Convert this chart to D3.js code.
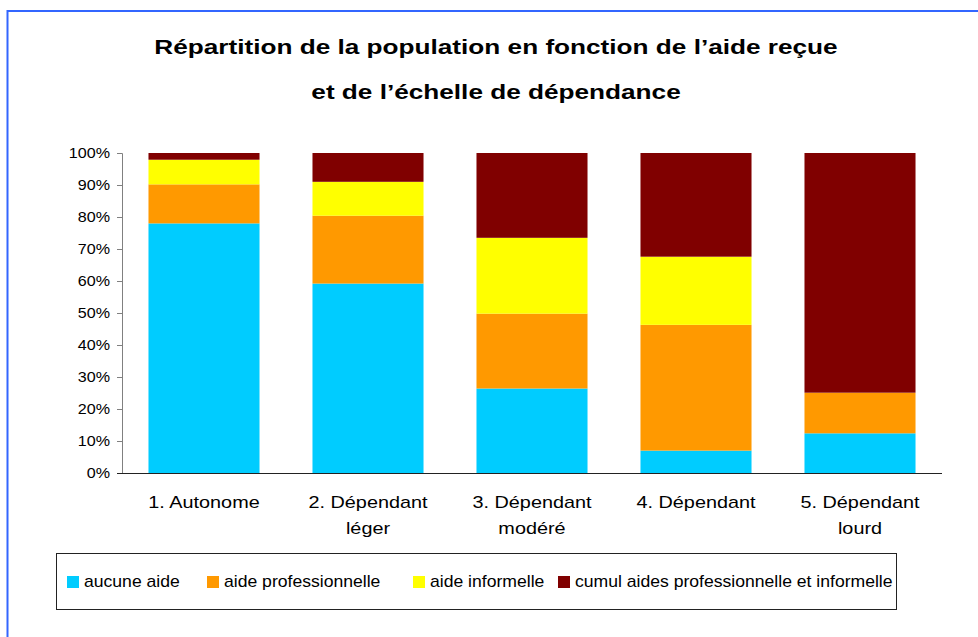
<!DOCTYPE html>
<html>
<head>
<meta charset="utf-8">
<script src="https://cdn.jsdelivr.net/npm/d3@7"></script>
<style>
  body { margin: 0; background: #fff; }
  svg { display: block; font-family: "Liberation Sans", Arial, sans-serif; }
</style>
</head>
<body>
<div id="chart"></div>
<script>
// Data
const categories = [
  ["1. Autonome"],
  ["2. Dépendant", "léger"],
  ["3. Dépendant", "modéré"],
  ["4. Dépendant"],
  ["5. Dépendant", "lourd"]
];
const seriesNames = [
  "aucune aide",
  "aide professionnelle",
  "aide informelle",
  "cumul aides professionnelle et informelle"
];
const aucuneAide = [78, 59.2, 26.4, 7, 12.4];
const aideProfessionnelle = [12.2, 21.2, 23.4, 39.3, 12.7];
const aideInformelle = [7.7, 10.6, 23.7, 21.3, 0];
const cumulAides = [2.1, 9, 26.5, 32.4, 74.9];
const yTicks = [0, 10, 20, 30, 40, 50, 60, 70, 80, 90, 100];

const colors = ["#00ccff", "#ff9900", "#ffff00", "#800000"];

const width = 978;
const height = 637;
const plotLeft = 122;
const plotRight = 942;
const plotTop = 153;
const plotBottom = 473;

// the original chart text is stretched horizontally
const stretchTitle = 1.277;
const stretchCat = 1.24;
const stretchTick = 1.15;
const stretchLegend = 1.1;

const rows = categories.map((c, i) => ({
  i: i,
  s0: aucuneAide[i],
  s1: aideProfessionnelle[i],
  s2: aideInformelle[i],
  s3: cumulAides[i]
}));

const stack = d3.stack().keys(["s0", "s1", "s2", "s3"]);
const layers = stack(rows);

const xScale = d3
  .scaleBand()
  .domain(d3.range(categories.length))
  .range([plotLeft, plotRight])
  .paddingInner(0.323)
  .paddingOuter(0.1615);

const yScale = d3.scaleLinear().domain([0, 100]).range([plotBottom, plotTop]);

const svg = d3
  .select("#chart")
  .append("svg")
  .attr("width", width)
  .attr("height", height);

// outer border
svg
  .append("rect")
  .attr("x", 7.5)
  .attr("y", 11)
  .attr("width", 1000)
  .attr("height", 700)
  .attr("fill", "none")
  .attr("stroke", "#3366ff")
  .attr("stroke-width", 2);

// title
const titleLines = [
  "Répartition de la population en fonction de l’aide reçue",
  "et de l’échelle de dépendance"
];
titleLines.forEach((line, j) => {
  svg
    .append("text")
    .attr("text-anchor", "middle")
    .attr("font-size", 20.5)
    .attr("font-weight", "bold")
    .attr("fill", "#000")
    .attr("transform", "translate(496," + (54 + j * 45) + ") scale(" + stretchTitle + ",1)")
    .text(line);
});

// bars
svg
  .selectAll("g.layer")
  .data(layers)
  .enter()
  .append("g")
  .attr("class", "layer")
  .attr("fill", (d, i) => colors[i])
  .selectAll("rect")
  .data((d) => d)
  .enter()
  .append("rect")
  .attr("x", (d) => xScale(d.data.i))
  .attr("y", (d) => yScale(d[1]))
  .attr("width", xScale.bandwidth())
  .attr("height", (d) => yScale(d[0]) - yScale(d[1]));

// y axis
const yAxis = d3
  .axisLeft(yScale)
  .tickValues(yTicks)
  .tickFormat((d) => d + "%")
  .tickSize(5)
  .tickPadding(7);
const yg = svg
  .append("g")
  .attr("transform", "translate(" + plotLeft + ",0)")
  .call(yAxis);
yg.select(".domain").attr("stroke", "#808080");
yg.selectAll(".tick line").attr("stroke", "#808080");
yg.selectAll(".tick text")
  .attr("font-size", 14)
  .attr("font-family", "Liberation Sans, Arial, sans-serif")
  .attr("fill", "#000")
  .attr("x", 0)
  .attr("transform", "translate(-12,0) scale(" + stretchTick + ",1)");

// x axis
const xAxis = d3.axisBottom(xScale).tickSize(0).tickFormat("");
const xg = svg
  .append("g")
  .attr("transform", "translate(0," + plotBottom + ")")
  .call(xAxis);
xg.select(".domain").attr("stroke", "#222").attr("d", "M" + (plotLeft - 5) + ",0.5H" + plotRight);

// category labels
categories.forEach((lines, i) => {
  lines.forEach((line, j) => {
    svg
      .append("text")
      .attr("text-anchor", "middle")
      .attr("font-size", 16)
      .attr("fill", "#000")
      .attr(
        "transform",
        "translate(" + (xScale(i) + xScale.bandwidth() / 2) + "," + (508 + j * 26) + ") scale(" + stretchCat + ",1)"
      )
      .text(line);
  });
});

// legend
const legend = svg.append("g");
legend
  .append("rect")
  .attr("x", 56.5)
  .attr("y", 553.5)
  .attr("width", 840)
  .attr("height", 56)
  .attr("fill", "#fff")
  .attr("stroke", "#222")
  .attr("stroke-width", 1);

const legendX = [67, 207, 413, 558];
seriesNames.forEach((name, i) => {
  legend
    .append("rect")
    .attr("x", legendX[i])
    .attr("y", 576)
    .attr("width", 12)
    .attr("height", 12)
    .attr("fill", colors[i]);
  legend
    .append("text")
    .attr("font-size", 16)
    .attr("fill", "#000")
    .attr("transform", "translate(" + (legendX[i] + 17) + ",587) scale(" + stretchLegend + ",1)")
    .text(name);
});
</script>
</body>
</html>
